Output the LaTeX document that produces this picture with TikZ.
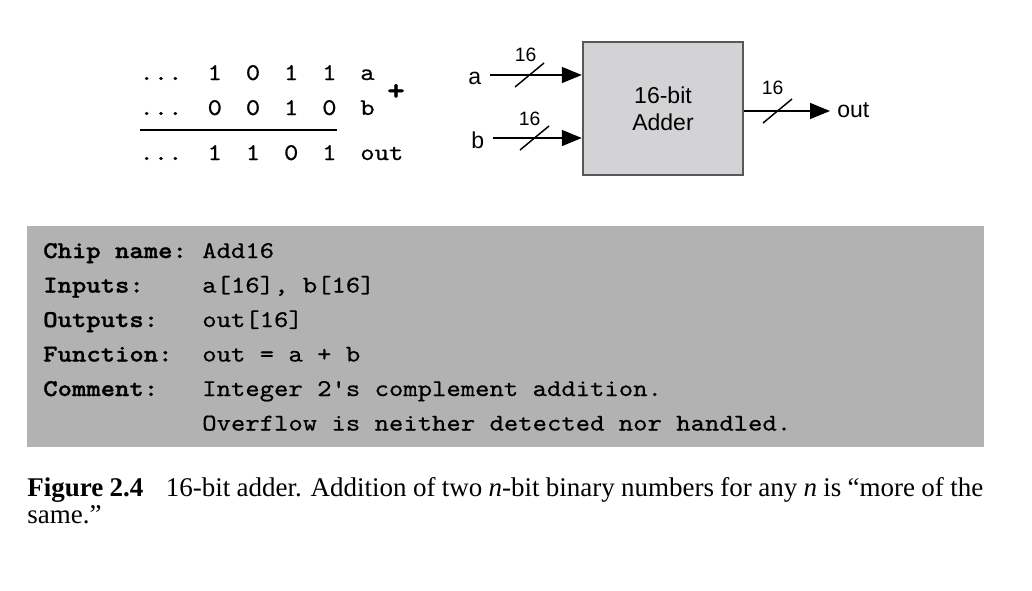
\documentclass[tikz,border=0pt]{standalone}
\usepackage{fontspec}
\setmainfont{Liberation Serif}
\setsansfont{Liberation Sans}
\newfontfamily\codefont{lmmono10-regular.otf}[BoldFont=lmmonolt10-bold.otf,FakeStretch=1.14,
  UprightFeatures={FakeBold=0.6},BoldFeatures={FakeBold=1.2}]
\usetikzlibrary{arrows.meta,positioning}
\definecolor{adderfill}{RGB}{211,211,213}
\definecolor{adderline}{RGB}{88,88,88}
\definecolor{specgray}{RGB}{178,178,178}
\tikzset{
  code/.style={inner sep=0pt,anchor=base west,font=\codefont\fontsize{18}{21}\selectfont},
  bit/.style={code,anchor=base},
  bus/.style={line width=1.1pt},
  wire/.style={bus,-{Triangle[length=15pt,width=12pt]}},
  wlab/.style={inner sep=0pt,anchor=base,font=\sffamily\fontsize{14.5}{16}\selectfont},
  pin/.style={inner sep=0pt,anchor=base west,font=\sffamily\fontsize{17.25}{20}\selectfont},
  adder/.style={draw=adderline,line width=1.8pt,fill=adderfill,minimum width=120pt,
    minimum height=99.75pt,align=center,font=\sffamily\fontsize{17.25}{20.25}\selectfont}
}

\begin{document}
\begin{tikzpicture}[x=0.75pt,y=-0.75pt]
\useasboundingbox (0,0) rectangle (1032,590);
% Step 1: binary addition
\foreach \d [count=\i] in {1,0,1,1} \node[bit] (a\i) at (176.6+38.2*\i,80) {\d};
\foreach \d [count=\i] in {0,0,1,0} \node[bit] (b\i) at (176.6+38.2*\i,115) {\d};
\foreach \d [count=\i] in {1,1,0,1} \node[bit] (s\i) at (176.6+38.2*\i,160) {\d};
\foreach \r/\y in {a/80,b/115,s/160} \node[bit] (dots\r) at (161,\y) {...};
\node[code] (na) at (360,80) {a};
\node[code] (nb) at (360,115) {b};
\node[code] (ns) at (360,160) {out};
\node[code,anchor=center,font=\codefont\fontsize{22}{24}\selectfont\bfseries] (plus) at (396,92) {+};
\coordinate (rl) at (140,129.5);
\coordinate (rr) at (337,129.5);
\draw[line width=1.5pt] (rl) -- (rr);
% Step 2: adder chip
\node[adder] (add) at (663,108.5) {16-bit\\Adder};
\node[pin] (pa) at (468,84) {a};
\node[pin] (pb) at (471,148) {b};
\coordinate (ina) at (490,75);
\coordinate (inb) at (493,138);
\coordinate (outr) at (830,111);
\draw[wire] (ina) -- (ina -| add.west);
\draw[wire] (inb) -- (inb -| add.west);
\draw[wire] (outr -| add.east) -- (outr);
\node[pin] (pout) at (837,117.5) {out};
% bus width marks
\foreach \mx/\my/\lx/\ly [count=\i] in {529.5/75/525.5/61, 534.5/138/529.5/125, 777.5/111/772.5/94} {
  \draw[bus] (\mx,\my) ++(-14.5,12) -- ++(29,-24);
  \node[wlab] (w\i) at (\lx,\ly) {16};
}
% Step 3: specification box
\fill[specgray] (27,226) rectangle (984,447);
\foreach \lab/\val [count=\i from 0] in {Chip name:/Add16, Inputs:/{a[16], b[16]},
    Outputs:/{out[16]}, Function:/{out = a + b}, Comment:/{Integer 2's complement addition.}} {
  \node[code] (lab\i) at (43,258+34.5*\i) {\bfseries\lab};
  \node[code] (val\i) at (202,258+34.5*\i) {\val};
}
\node[code] (val5) at (202,430.5) {Overflow is neither detected nor handled.};
% caption
\node[inner sep=0pt,anchor=base west,font=\fontsize{20.25}{27}\selectfont] (cap1) at (27,496)
  {\makebox[717pt][s]{\textbf{Figure 2.4}\hspace{0.6em} 16-bit adder. Addition of two \textit{n}-bit binary numbers for any \textit{n} is ``more of the}};
\node[inner sep=0pt,anchor=base west,font=\fontsize{20.25}{27}\selectfont] (cap2) at (27,523) {same.''};
\end{tikzpicture}
\end{document}
